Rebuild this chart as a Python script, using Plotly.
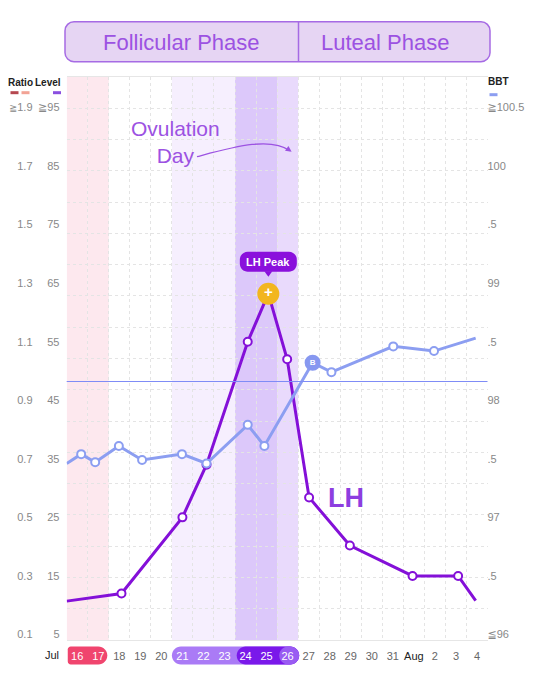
import math
import pandas as pd
import plotly.graph_objects as go

# ---- data ----
start_day = pd.Timestamp('2023-07-16')
day_labels = ['16', '17', '18', '19', '20', '21', '22', '23', '24', '25',
              '26', '27', '28', '29', '30', '31', 'Aug', '2', '3', '4']

lh_time = ['07-16 00:00', '07-18 14:30', '07-21 12:00', '07-22 15:30', '07-24 14:30',
           '07-25 14:00', '07-26 11:30', '07-27 12:30', '07-29 11:00', '08-01 10:30',
           '08-03 14:30', '08-04 10:30']
lh_level = [10.7, 12, 25, 34, 55, 63.2, 52, 28.4, 20.2, 15, 15, 10.8]

bbt_time = ['07-16 00:00', '07-16 16:30', '07-17 08:30', '07-18 11:30', '07-19 14:00',
            '07-21 11:30', '07-22 15:30', '07-24 14:30', '07-25 09:30', '07-27 16:30',
            '07-28 14:00', '07-31 12:30', '08-02 11:00', '08-04 10:30']
bbt_temp = [97.46, 97.54, 97.47, 97.61, 97.49, 97.54, 97.46, 97.79, 97.61, 98.32,
            98.24, 98.46, 98.42, 98.53]
cover_line = 98.16

level_ticks = [5, 15, 25, 35, 45, 55, 65, 75, 85, 95]
level_text = ['5', '15', '25', '35', '45', '55', '65', '75', '85', '≧95']
ratio_ticks = [0.1, 0.3, 0.5, 0.7, 0.9, 1.1, 1.3, 1.5, 1.7, 1.9]
ratio_text = ['0.1', '0.3', '0.5', '0.7', '0.9', '1.1', '1.3', '1.5', '1.7',
              '<span style="font-size:9.5px">≧</span>1.9']
bbt_ticks = [96, 96.5, 97, 97.5, 98, 98.5, 99, 99.5, 100, 100.5]
bbt_text = ['≦96', '.5', '97', '.5', '98', '.5', '99', '.5', '100', '≧100.5']

period_days = [0, 1]          # Jul 16-17
fertile_days = [5, 6, 7]      # Jul 21-23
ovulation_days = [8, 9]       # Jul 24-25
last_fertile_day = [10]       # Jul 26

# ---- geometry (screen pixels; the page body adds an 8px offset) ----
OFF = 8
W, H = 554 - OFF, 681 - OFF
PLOT_L, PLOT_R, PLOT_T, PLOT_B = 66.7, 487.5, 77.3, 640.5
ndays = len(day_labels)
px_day = (PLOT_R - PLOT_L) / ndays
plot_h = PLOT_B - PLOT_T

level_range = [4.06, 100.2]
ratio_range = [0.1 + (v - 5) / 50 for v in level_range]
bbt_range = [96 + (v - 5) / 20 for v in level_range]


def pxX(px):
    return (px - OFF) / W


def pxY(py):
    return (PLOT_B - py) / plot_h


def to_days(times):
    ts = pd.to_datetime(['2023-' + t for t in times])
    return list((ts - start_day) / pd.Timedelta('1D'))


def rounded_path(x0, x1, y0, y1, rxl, rxr, ryl, ryr):
    k = 0.5523
    p = f'M {x0 + rxl},{y0} L {x1 - rxr},{y0} '
    p += f'C {x1 - rxr + k * rxr},{y0} {x1},{y0 + ryr - k * ryr} {x1},{y0 + ryr} '
    p += f'L {x1},{y1 - ryr} '
    p += f'C {x1},{y1 - ryr + k * ryr} {x1 - rxr + k * rxr},{y1} {x1 - rxr},{y1} '
    p += f'L {x0 + rxl},{y1} '
    p += f'C {x0 + rxl - k * rxl},{y1} {x0},{y1 - ryl + k * ryl} {x0},{y1 - ryl} '
    p += f'L {x0},{y0 + ryl} '
    p += f'C {x0},{y0 + ryl - k * ryl} {x0 + rxl - k * rxl},{y0} {x0 + rxl},{y0} Z'
    return p


FONT = 'Liberation Sans, DejaVu Sans, sans-serif'
LH_COLOR = '#8410d8'
BBT_COLOR = '#8c9ef1'
PURPLE_TXT = '#9c52e2'
CLEAR = 'rgba(0,0,0,0)'

lh_x = to_days(lh_time)
bbt_x = to_days(bbt_time)
peak_i = lh_level.index(max(lh_level))
b_i = next(i for i, v in enumerate(bbt_temp) if v > cover_line)
n_lh, n_bbt = len(lh_level), len(bbt_temp)

fig = go.Figure()

# BBT series
bbt_size = [8] * n_bbt
bbt_fill = ['white'] * n_bbt
bbt_edge = [BBT_COLOR] * n_bbt
bbt_label = [''] * n_bbt
bbt_size[b_i], bbt_fill[b_i], bbt_label[b_i] = 14, '#8798f0', '<b>B</b>'
bbt_edge[b_i] = '#8798f0'
for i in (0, n_bbt - 1):
    bbt_fill[i] = bbt_edge[i] = CLEAR
fig.add_trace(go.Scatter(
    x=bbt_x, y=bbt_temp, yaxis='y2', mode='lines+markers+text',
    line=dict(color=BBT_COLOR, width=3),
    marker=dict(size=bbt_size, color=bbt_fill, opacity=1,
                line=dict(color=bbt_edge, width=2)),
    text=bbt_label, textposition='middle center',
    textfont=dict(color='white', size=8, family=FONT),
    hoverinfo='skip', showlegend=False))

# LH series
lh_size = [8] * n_lh
lh_fill = ['white'] * n_lh
lh_edge = [LH_COLOR] * n_lh
lh_label = [''] * n_lh
lh_size[peak_i], lh_fill[peak_i], lh_edge[peak_i] = 20, '#f2b61f', '#f2b61f'
lh_label[peak_i] = '<b>+</b>'
for i in (0, n_lh - 1):
    lh_fill[i] = lh_edge[i] = CLEAR
fig.add_trace(go.Scatter(
    x=lh_x, y=lh_level, yaxis='y', mode='lines+markers+text',
    line=dict(color=LH_COLOR, width=3),
    marker=dict(size=lh_size, color=lh_fill, opacity=1,
                line=dict(color=lh_edge, width=2)),
    text=lh_label, textposition='middle center',
    textfont=dict(color='white', size=15, family=FONT),
    hoverinfo='skip', showlegend=False))

# ratio scale has no series here; an empty trace keeps its axis drawn
fig.add_trace(go.Scatter(x=[], y=[], yaxis='y3', hoverinfo='skip', showlegend=False))

shapes = []


def band(days, color):
    for d in days:
        shapes.append(dict(type='rect', xref='x', yref='paper', x0=d, x1=d + 1, y0=0, y1=1,
                           fillcolor=color, line=dict(width=0), layer='below'))


band(period_days, '#fde8ee')
band(fertile_days, '#f6effe')
band(ovulation_days, '#dcc8fa')
band(last_fertile_day, '#e9dafc')

# cover line
shapes.append(dict(type='line', xref='x domain', yref='y2', x0=0, x1=1,
                   y0=cover_line, y1=cover_line, line=dict(color='#7f8cf6', width=1.2)))

# tick-label pills (below, so the white tick labels sit on top)
ry = 9 / plot_h
rx = 9 / px_day
py0, py1 = pxY(665), pxY(647)
pills = [
    (period_days[0] + 0.05, period_days[-1] + 0.93, 3 / px_day, rx, 3 / plot_h, '#f0456e'),
    (fertile_days[0], last_fertile_day[0] + 1.05, rx, rx, ry, '#aa7bf6'),
    (ovulation_days[0] + 0.08, last_fertile_day[0] + 1.05, rx, rx, ry, '#7a18ea'),
    (last_fertile_day[0] + 0.1, last_fertile_day[0] + 1.05, rx, rx, ry, '#995bf2'),
]
for (xa, xb, rl, rr, ryl, col) in pills:
    shapes.append(dict(type='path', xref='x', yref='paper', fillcolor=col, line=dict(width=0),
                       layer='below', path=rounded_path(xa, xb, py0, py1, rl, rr, ryl, ry)))

# phase header
shapes.append(dict(type='path', xref='paper', yref='paper', fillcolor='#e6d5f3',
                   line=dict(color='#a66be4', width=1.5),
                   path=rounded_path(pxX(65), pxX(490), pxY(62), pxY(22),
                                     9 / W, 9 / W, 9 / plot_h, 9 / plot_h)))
shapes.append(dict(type='line', xref='paper', yref='paper', x0=pxX(298.5), x1=pxX(298.5),
                   y0=pxY(22), y1=pxY(62), line=dict(color='#a66be4', width=1.5)))

# legend dashes
for (xa, xb, yy, col) in [(10.5, 18.5, 93, '#b5474f'), (21.5, 29.5, 93, '#f2a395'),
                          (53, 61, 93, '#8a4fe0'), (489.5, 497.5, 95, BBT_COLOR)]:
    shapes.append(dict(type='line', xref='paper', yref='paper', x0=pxX(xa), x1=pxX(xb),
                       y0=pxY(yy), y1=pxY(yy), line=dict(color=col, width=3)))

# curved ovulation arrow
S, C1, C2, E = (197, 157), (235, 147), (270, 137), (290, 151)
shapes.append(dict(type='path', xref='paper', yref='paper', line=dict(color=PURPLE_TXT, width=1.3),
                   path=f'M {pxX(S[0])},{pxY(S[1])} C {pxX(C1[0])},{pxY(C1[1])} '
                        f'{pxX(C2[0])},{pxY(C2[1])} {pxX(E[0])},{pxY(E[1])}'))
dx, dy = E[0] - C2[0], E[1] - C2[1]
norm = math.hypot(dx, dy)
ux, uy = dx / norm, dy / norm
tip = (E[0] + 2 * ux, E[1] + 2 * uy)
base = (tip[0] - 6 * ux, tip[1] - 6 * uy)
pa = (base[0] - 3 * uy, base[1] + 3 * ux)
pb = (base[0] + 3 * uy, base[1] - 3 * ux)
shapes.append(dict(type='path', xref='paper', yref='paper', fillcolor=PURPLE_TXT, line=dict(width=0),
                   path=f'M {pxX(tip[0])},{pxY(tip[1])} L {pxX(pa[0])},{pxY(pa[1])} '
                        f'L {pxX(pb[0])},{pxY(pb[1])} Z'))

# LH peak callout box (pixel offsets from the peak point)
bx = 28.5
box = rounded_path(-bx, bx, 22, 42, 8, 8, 8, 8)
shapes.append(dict(type='path', xref='x', yref='y', xsizemode='pixel', ysizemode='pixel',
                   xanchor=lh_x[peak_i], yanchor=lh_level[peak_i], path=box,
                   fillcolor='#8a10dc', line=dict(width=0)))
shapes.append(dict(type='path', xref='x', yref='y', xsizemode='pixel', ysizemode='pixel',
                   xanchor=lh_x[peak_i], yanchor=lh_level[peak_i],
                   path='M -4,22.5 L 4,22.5 L 0,17 Z', fillcolor='#8a10dc', line=dict(width=0)))


def label(px, py, text, size, color, bold=False):
    t = f'<b>{text}</b>' if bold else text
    return dict(x=pxX(px), y=pxY(py), xref='paper', yref='paper', showarrow=False,
                xanchor='center', yanchor='middle', align='center', text=t,
                font=dict(color=color, size=size, family=FONT))


annotations = [
    dict(x=lh_x[peak_i], y=lh_level[peak_i], xref='x', yref='y', yshift=32, showarrow=False,
         xanchor='center', yanchor='middle',
         text='<b>LH Peak</b>', font=dict(color='white', size=11, family=FONT)),
    label(181, 43, 'Follicular Phase', 22, PURPLE_TXT),
    label(385, 43, 'Luteal Phase', 22, PURPLE_TXT),
    label(175, 142.5, 'Ovulation<br>Day', 21, PURPLE_TXT),
    label(346, 498, 'LH', 27, '#8d3ee0', bold=True),
    label(20, 83, 'Ratio', 10, '#222', bold=True),
    label(47.5, 83, 'Level', 10, '#222', bold=True),
    label(498, 82, 'BBT', 10, '#222', bold=True),
    label(52, 656, 'Jul', 11, '#222'),
]

white_days = set(period_days + fertile_days + ovulation_days + last_fertile_day)
tick_text = []
for i, lab in enumerate(day_labels):
    if i in white_days:
        tick_text.append(f'<span style="color:white">{lab}</span>')
    elif lab == 'Aug':
        tick_text.append(f'<span style="color:#222">{lab}</span>')
    else:
        tick_text.append(lab)

grid = dict(showgrid=True, gridcolor='#e4e4e4', griddash='dot', gridwidth=1, ticks='')
tick_font = dict(size=11, color='#888', family=FONT)
side_axis = dict(ticks='', showgrid=False, zeroline=False, showline=False, automargin=False,
                 tickfont=tick_font)

fig.update_layout(
    width=W, height=H,
    margin=dict(l=0, r=0, t=PLOT_T - OFF, b=H - (PLOT_B - OFF)),
    plot_bgcolor='white', paper_bgcolor='white',
    showlegend=False,
    shapes=shapes, annotations=annotations,
    xaxis=dict(range=[0, ndays], domain=[pxX(PLOT_L), pxX(PLOT_R)], automargin=False,
               tickvals=[i + 0.5 for i in range(ndays)], ticktext=tick_text,
               tickfont=dict(size=11, color='#666', family=FONT),
               ticks='outside', ticklen=6, tickcolor=CLEAR,
               showgrid=False, zeroline=False, showline=True, mirror=True, linecolor='#e6e6e6',
               minor=dict(tickmode='linear', tick0=0, dtick=1, **grid)),
    yaxis=dict(range=level_range, anchor='free', position=pxX(59.5), side='left',
               tickvals=level_ticks, ticktext=level_text,
               minor=dict(tickmode='linear', tick0=level_range[0],
                          dtick=(level_range[1] - level_range[0]) / 18, **grid),
               **side_axis),
    yaxis2=dict(range=bbt_range, overlaying='y', anchor='free', position=pxX(486.5), side='right',
                tickvals=bbt_ticks, ticktext=bbt_text, **side_axis),
    yaxis3=dict(range=ratio_range, overlaying='y', anchor='free', position=pxX(32.5), side='left',
                tickvals=ratio_ticks, ticktext=ratio_text, **side_axis),
)

fig.write_html("out.html")
